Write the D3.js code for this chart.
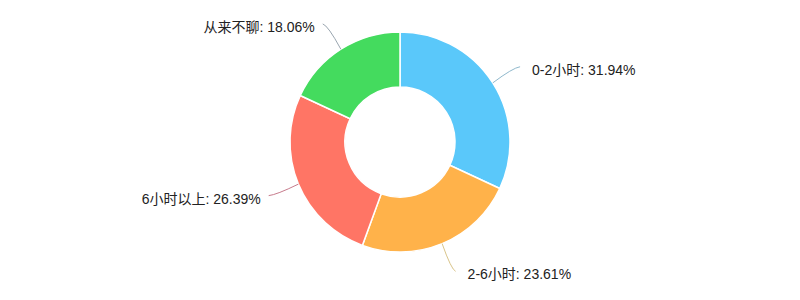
<!DOCTYPE html>
<html>
<head>
<meta charset="utf-8">
<script src="https://cdn.jsdelivr.net/npm/d3@7"></script>
<style>
  body { margin: 0; background: #fff; }
  text { font-family: "Liberation Sans", "Noto Sans CJK SC", sans-serif; }
</style>
</head>
<body>
<div id="chart"></div>
<script>
// data
const categories = ["0-2小时", "2-6小时", "6小时以上", "从来不聊"];
const values = [31.94, 23.61, 26.39, 18.06];
const colors = ["#5AC8FA", "#FFB24A", "#FF7565", "#44DB5E"];
const lineColors = ["#8fb8cc", "#d9c48a", "#c77b8c", "#9aa6b0"];

const width = 800;
const height = 300;
const cx = 400;
const cy = 142;
const outerR = 110;
const innerR = 55;
const labelDist = 30;

const svg = d3
  .select("#chart")
  .append("svg")
  .attr("width", width)
  .attr("height", height);

const g = svg.append("g").attr("transform", `translate(${cx},${cy})`);

const pie = d3.pie().sort(null).value((d) => d.value);
const arcs = pie(categories.map((c, i) => ({ name: c, value: values[i], i })));

const arc = d3.arc().innerRadius(innerR).outerRadius(outerR);

g.selectAll("path.slice")
  .data(arcs)
  .join("path")
  .attr("class", "slice")
  .attr("d", arc)
  .attr("fill", (d) => colors[d.data.i])
  .attr("stroke", "#fff")
  .attr("stroke-width", 1.5);

// point along the mid angle at radius r
const at = (a, r) => [r * Math.sin(a), -r * Math.cos(a)];

const labels = arcs.map((d) => {
  const a = (d.startAngle + d.endAngle) / 2;
  const p0 = at(a, outerR);
  const p1 = at(a, outerR + labelDist);
  const right = p1[0] > 0;
  return { d, a, p0, p1, right };
});

// soft connectors
g.selectAll("path.connector")
  .data(labels)
  .join("path")
  .attr("class", "connector")
  .attr("fill", "none")
  .attr("stroke", (l) => lineColors[l.d.data.i])
  .attr("stroke-width", 1)
  .attr("d", (l) => {
    const c = at(l.a, outerR + labelDist * 0.8);
    const end = [l.p1[0] + (l.right ? 2 : -2), l.p1[1]];
    const ctrl = [c[0], l.p1[1] + (c[1] - l.p1[1]) * 0.3];
    return `M${l.p0[0]},${l.p0[1]}Q${ctrl[0]},${ctrl[1]} ${end[0]},${end[1]}`;
  });

g.selectAll("text.label")
  .data(labels)
  .join("text")
  .attr("class", "label")
  .attr("x", (l) => l.p1[0] + (l.right ? 14 : -10))
  .attr("y", (l) => l.p1[1] + 3)
  .attr("dy", "0.35em")
  .attr("text-anchor", (l) => (l.right ? "start" : "end"))
  .attr("font-size", 14)
  .attr("fill", "#222")
  .text((l) => `${l.d.data.name}: ${l.d.data.value.toFixed(2)}%`);
</script>
</body>
</html>
